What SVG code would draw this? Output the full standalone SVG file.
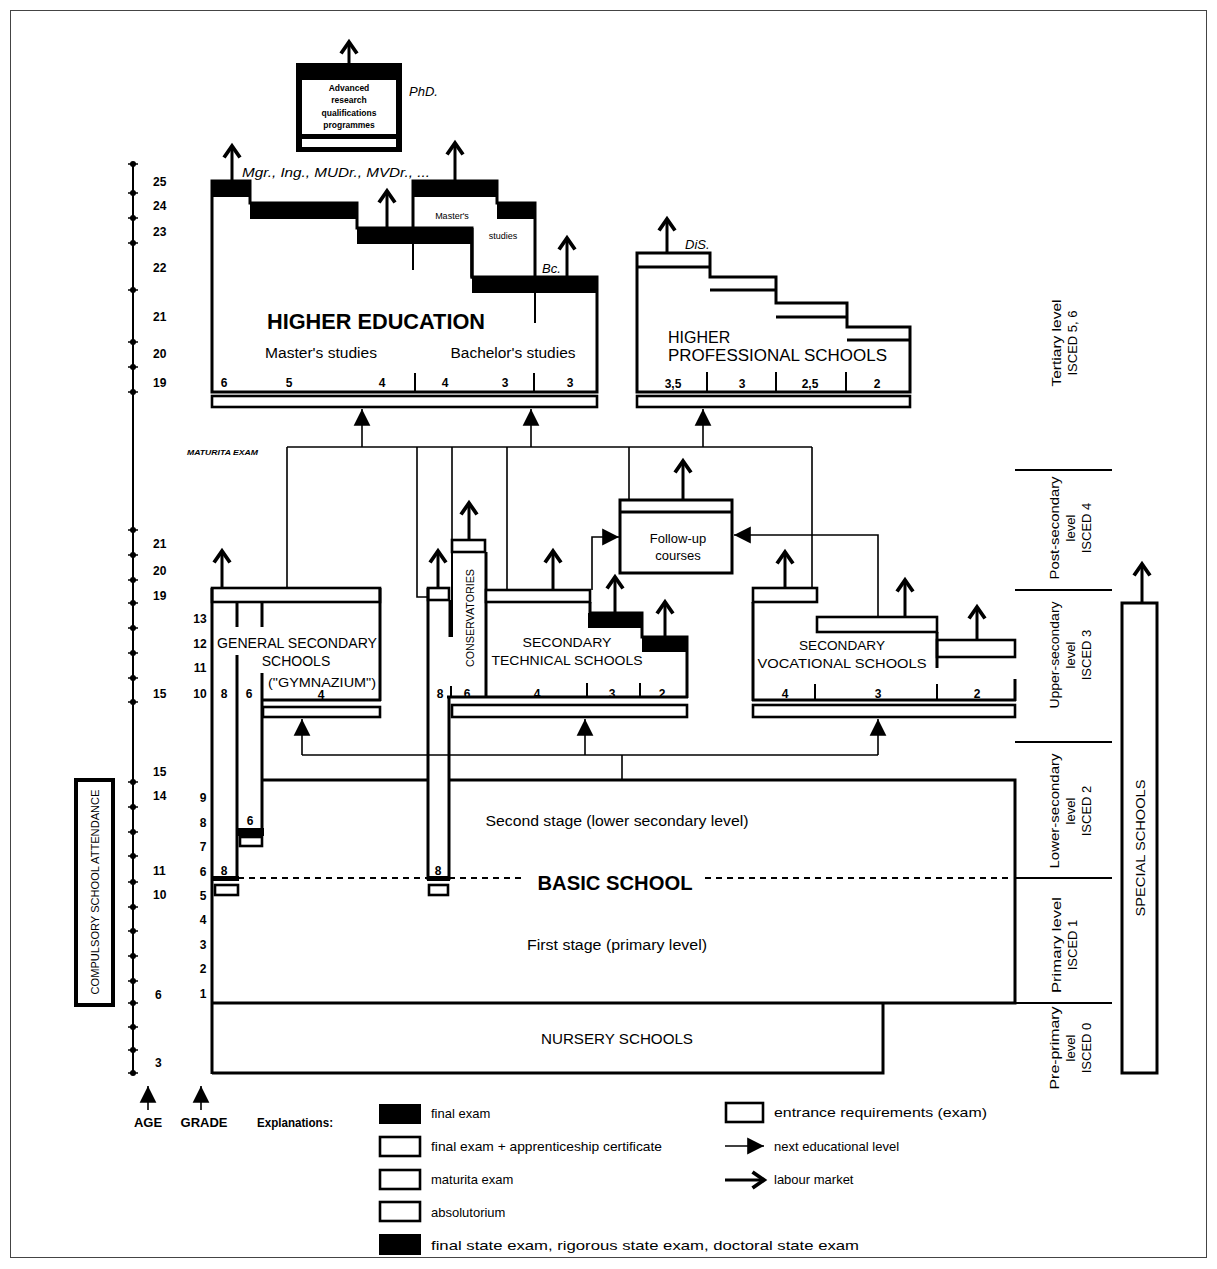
<svg xmlns="http://www.w3.org/2000/svg" width="1217" height="1269" viewBox="0 0 1217 1269">
<style>
text{font-family:"Liberation Sans",Arial,sans-serif;fill:#000}
.w{fill:none;stroke:#000;stroke-width:3}
.wt{fill:none;stroke:#000;stroke-width:2}
.bx{fill:#fff;stroke:#000;stroke-width:3}
.st{fill:#fff;stroke:#000;stroke-width:2.6}
.bd{fill:#000}
.ln{fill:none;stroke:#000;stroke-width:1.6}
.lab{fill:none;stroke:#000;stroke-width:3;marker-end:url(#lab)}
.nx{fill:none;stroke:#000;stroke-width:1.6;marker-end:url(#nxt)}
.age{font-size:12px;font-weight:bold}
.gr{font-size:12px;font-weight:bold;text-anchor:middle}
.num{font-size:12px;font-weight:bold;text-anchor:middle}
.nm{font-size:14px;text-anchor:middle}
.isc{font-size:13px;text-anchor:middle}
.lg{font-size:13px}
.it{font-style:italic;font-size:13px}
.tk{fill:#000}
</style>
<defs>
<marker id="lab" markerUnits="userSpaceOnUse" markerWidth="24" markerHeight="24" viewBox="-14 -12 24 24" refX="0" refY="0" orient="auto" overflow="visible"><path d="M-11.5,-8 L0,0 L-11.5,8" fill="none" stroke="#000" stroke-width="3.8"/></marker>
<marker id="nxt" markerUnits="userSpaceOnUse" markerWidth="24" markerHeight="24" viewBox="-16 -10 20 20" refX="0" refY="0" orient="auto" overflow="visible"><path d="M0,0 L-14,-7 L-14,7 Z" fill="#000"/></marker>
</defs>
<rect x="0" y="0" width="1217" height="1269" fill="#fff"/>
<rect id="frame" x="10.5" y="10.5" width="1196" height="1247" fill="none" stroke="#444" stroke-width="1"/>

<g id="age-axis">
<line x1="133" y1="163" x2="133" y2="1073" stroke="#000" stroke-width="2"/>
<g class="tk">
<circle cx="133" cy="164" r="3"/><circle cx="133" cy="193" r="3"/><circle cx="133" cy="218" r="3"/><circle cx="133" cy="243" r="3"/><circle cx="133" cy="290" r="3"/><circle cx="133" cy="342" r="3"/><circle cx="133" cy="367" r="3"/><circle cx="133" cy="392" r="3"/>
<circle cx="133" cy="530" r="3"/><circle cx="133" cy="555" r="3"/><circle cx="133" cy="580" r="3"/><circle cx="133" cy="603" r="3"/><circle cx="133" cy="628" r="3"/><circle cx="133" cy="653" r="3"/><circle cx="133" cy="678" r="3"/><circle cx="133" cy="702" r="3"/>
<circle cx="133" cy="782" r="3"/><circle cx="133" cy="807" r="3"/><circle cx="133" cy="832" r="3"/><circle cx="133" cy="856" r="3"/><circle cx="133" cy="882" r="3"/><circle cx="133" cy="907" r="3"/><circle cx="133" cy="931" r="3"/><circle cx="133" cy="956" r="3"/><circle cx="133" cy="981" r="3"/><circle cx="133" cy="1003" r="3"/><circle cx="133" cy="1027" r="3"/><circle cx="133" cy="1050" r="3"/><circle cx="133" cy="1073" r="3"/>
</g>
<path d="M128,164h10M128,193h10M128,218h10M128,243h10M128,290h10M128,342h10M128,367h10M128,392h10M128,530h10M128,555h10M128,580h10M128,603h10M128,628h10M128,653h10M128,678h10M128,702h10M128,782h10M128,807h10M128,832h10M128,856h10M128,882h10M128,907h10M128,931h10M128,956h10M128,981h10M128,1003h10M128,1027h10M128,1050h10M128,1073h10" stroke="#000" stroke-width="1.5"/>
<text class="age" x="153" y="186">25</text>
<text class="age" x="153" y="210">24</text>
<text class="age" x="153" y="236">23</text>
<text class="age" x="153" y="272">22</text>
<text class="age" x="153" y="321">21</text>
<text class="age" x="153" y="358">20</text>
<text class="age" x="153" y="387">19</text>
<text class="age" x="153" y="548">21</text>
<text class="age" x="153" y="575">20</text>
<text class="age" x="153" y="600">19</text>
<text class="age" x="153" y="698">15</text>
<text class="age" x="153" y="776">15</text>
<text class="age" x="153" y="800">14</text>
<text class="age" x="153" y="875">11</text>
<text class="age" x="153" y="899">10</text>
<text class="age" x="155" y="999">6</text>
<text class="age" x="155" y="1067">3</text>
<line class="ln" x1="148" y1="1110" x2="148" y2="1086" marker-end="url(#nxt)" stroke-width="1.8"/>
<text x="148" y="1127" font-size="13" font-weight="bold" text-anchor="middle">AGE</text>
</g>

<g id="grade-labels">
<text class="gr" x="200" y="623">13</text>
<text class="gr" x="200" y="648">12</text>
<text class="gr" x="200" y="672">11</text>
<text class="gr" x="200" y="698">10</text>
<text class="gr" x="203" y="802">9</text>
<text class="gr" x="203" y="827">8</text>
<text class="gr" x="203" y="851">7</text>
<text class="gr" x="203" y="876">6</text>
<text class="gr" x="203" y="900">5</text>
<text class="gr" x="203" y="924">4</text>
<text class="gr" x="203" y="949">3</text>
<text class="gr" x="203" y="973">2</text>
<text class="gr" x="203" y="998">1</text>
<line class="ln" x1="201" y1="1110" x2="201" y2="1086" marker-end="url(#nxt)" stroke-width="1.8"/>
<text x="204" y="1127" font-size="13" font-weight="bold" text-anchor="middle">GRADE</text>
</g>

<g id="compulsory">
<rect x="76" y="780" width="37" height="225" fill="#fff" stroke="#000" stroke-width="4"/>
<text transform="translate(99,892) rotate(-90)" font-size="10" text-anchor="middle" textLength="205" lengthAdjust="spacingAndGlyphs">COMPULSORY SCHOOL ATTENDANCE</text>
</g>

<g id="phd">
<rect x="296" y="63" width="106" height="89" fill="#000"/>
<rect x="302" y="80" width="94" height="54" fill="#fff"/>
<rect x="302" y="139" width="94" height="8" fill="#fff"/>
<g font-size="8.5" font-weight="bold" text-anchor="middle">
<text x="349" y="91">Advanced</text>
<text x="349" y="103">research</text>
<text x="349" y="116">qualifications</text>
<text x="349" y="128">programmes</text>
</g>
<line class="lab" x1="349" y1="63" x2="349" y2="42"/>
<text class="it" x="409" y="96">PhD.</text>
</g>

<g id="higher-education">
<path class="bx" d="M212,392 L212,181 L250,181 L250,203 L357,203 L357,228 L472,228 L472,277 L597,277 L597,392 Z"/>
<rect class="bd" x="212" y="181" width="38" height="16"/>
<rect class="bd" x="250" y="203" width="107" height="16"/>
<rect class="bd" x="357" y="228" width="115" height="16"/>
<rect class="bd" x="472" y="277" width="125" height="16"/>
<line class="wt" x1="413" y1="244" x2="413" y2="270"/>
<line class="wt" x1="535" y1="293" x2="535" y2="323"/>
<line class="wt" x1="415" y1="373" x2="415" y2="392"/>
<line class="wt" x1="534" y1="373" x2="534" y2="392"/>
<rect class="st" x="212" y="396" width="385" height="11"/>
<text x="376" y="329" font-size="22" font-weight="bold" text-anchor="middle" textLength="218" lengthAdjust="spacingAndGlyphs">HIGHER EDUCATION</text>
<text class="nm" x="321" y="358" textLength="112" lengthAdjust="spacingAndGlyphs">Master's studies</text>
<text class="nm" x="513" y="358" textLength="125" lengthAdjust="spacingAndGlyphs">Bachelor's studies</text>
<text class="num" x="224" y="387">6</text>
<text class="num" x="289" y="387">5</text>
<text class="num" x="382" y="387">4</text>
<text class="num" x="445" y="387">4</text>
<text class="num" x="505" y="387">3</text>
<text class="num" x="570" y="387">3</text>
<line class="lab" x1="232" y1="181" x2="232" y2="146"/>
<line class="lab" x1="387" y1="228" x2="387" y2="191"/>
<line class="lab" x1="567" y1="277" x2="567" y2="238"/>
<text class="it" x="242" y="177" textLength="188" lengthAdjust="spacingAndGlyphs">Mgr., Ing., MUDr., MVDr., ...</text>
<text class="it" x="542" y="273">Bc.</text>
</g>

<g id="masters-box">
<path class="bx" d="M413,228 L413,181 L497,181 L497,203 L535,203 L535,277 L472,277 L472,228 Z"/>
<rect class="bd" x="413" y="181" width="84" height="16"/>
<rect class="bd" x="497" y="203" width="38" height="16"/>
<line class="w" x1="472" y1="228" x2="472" y2="277"/>
<text x="452" y="219" font-size="9" text-anchor="middle">Master's</text>
<text x="503" y="239" font-size="9" text-anchor="middle">studies</text>
<line class="lab" x1="455" y1="181" x2="455" y2="143"/>
</g>

<g id="higher-professional">
<path class="bx" d="M637,392 L637,253 L710,253 L710,277 L776,277 L776,303 L847,303 L847,327 L910,327 L910,392 Z"/>
<path class="w" d="M637,267 H710 M710,290 H776 M776,317 H847 M847,340 H910"/>
<line class="wt" x1="707" y1="372" x2="707" y2="392"/>
<line class="wt" x1="776" y1="372" x2="776" y2="392"/>
<line class="wt" x1="846" y1="372" x2="846" y2="392"/>
<rect class="st" x="637" y="396" width="273" height="11"/>
<text x="668" y="343" font-size="16">HIGHER</text>
<text x="668" y="361" font-size="16" textLength="219" lengthAdjust="spacingAndGlyphs">PROFESSIONAL SCHOOLS</text>
<text class="num" x="673" y="388">3,5</text>
<text class="num" x="742" y="388">3</text>
<text class="num" x="810" y="388">2,5</text>
<text class="num" x="877" y="388">2</text>
<line class="lab" x1="667" y1="253" x2="667" y2="219"/>
<text class="it" x="685" y="249" font-size="11">DiS.</text>
</g>

<g id="gymnazium">
<rect class="st" x="212" y="588" width="168" height="14"/>
<line class="w" x1="380" y1="588" x2="380" y2="701"/>
<line class="w" x1="261" y1="700" x2="381" y2="700"/>
<rect class="st" x="263" y="707" width="117" height="10"/>
<line class="w" x1="212" y1="588" x2="212" y2="1074"/>
<line class="w" x1="237" y1="602" x2="237" y2="627"/>
<line class="w" x1="262" y1="602" x2="262" y2="627"/>
<line class="w" x1="237" y1="655" x2="237" y2="878"/>
<line class="w" x1="262" y1="673" x2="262" y2="830"/>
<rect class="bd" x="211" y="876" width="28" height="5"/>
<rect class="st" x="215" y="885" width="23" height="10"/>
<rect class="bd" x="237" y="828" width="27" height="8"/>
<rect class="st" x="240" y="837" width="22" height="9"/>
<text x="297" y="648" font-size="14" text-anchor="middle" textLength="160" lengthAdjust="spacingAndGlyphs">GENERAL SECONDARY</text>
<text x="296" y="666" font-size="14" text-anchor="middle">SCHOOLS</text>
<text x="322" y="687" font-size="13" text-anchor="middle" textLength="108" lengthAdjust="spacingAndGlyphs">("GYMNAZIUM")</text>
<text class="num" x="321" y="699">4</text>
<text class="num" x="224" y="698">8</text>
<text class="num" x="249" y="698">6</text>
<text class="num" x="224" y="875">8</text>
<text class="num" x="250" y="825">6</text>
<line class="lab" x1="222" y1="588" x2="222" y2="551"/>
</g>

<g id="conservatory-8">
<rect class="st" x="428" y="588" width="21" height="12"/>
<line class="w" x1="428" y1="588" x2="428" y2="880"/>
<line class="w" x1="450" y1="600" x2="450" y2="637"/>
<line class="w" x1="449" y1="697" x2="449" y2="880"/>
<rect class="bd" x="427" y="876" width="23" height="5"/>
<rect class="st" x="429" y="885" width="19" height="10"/>
<text class="num" x="440" y="698">8</text>
<text class="num" x="438" y="875">8</text>
<line class="lab" x1="438" y1="588" x2="438" y2="551"/>
</g>

<g id="conservatories">
<rect class="st" x="452" y="540" width="33" height="12"/>
<line class="wt" x1="452" y1="552" x2="452" y2="637"/>
<line class="w" x1="486" y1="552" x2="486" y2="698"/>
<line class="wt" x1="451" y1="686" x2="451" y2="697"/>
<text transform="translate(474,618) rotate(-90)" font-size="10" text-anchor="middle" textLength="98" lengthAdjust="spacingAndGlyphs">CONSERVATORIES</text>
<text class="num" x="467" y="698">6</text>
<line class="lab" x1="469" y1="540" x2="469" y2="503"/>
</g>

<g id="technical">
<rect class="st" x="486" y="590" width="104" height="12"/>
<path class="w" d="M590,602 L590,613 L642,613 L642,637 L687,637 L687,698"/>
<rect class="bd" x="588" y="613" width="55" height="15"/>
<rect class="bd" x="642" y="637" width="46" height="15"/>
<line class="w" x1="447" y1="697" x2="688" y2="697"/>
<line class="wt" x1="587" y1="683" x2="587" y2="697"/>
<line class="wt" x1="640" y1="683" x2="640" y2="697"/>
<rect class="st" x="452" y="705" width="235" height="12"/>
<text x="567" y="647" font-size="13" text-anchor="middle" textLength="89" lengthAdjust="spacingAndGlyphs">SECONDARY</text>
<text x="567" y="665" font-size="13" text-anchor="middle" textLength="151" lengthAdjust="spacingAndGlyphs">TECHNICAL SCHOOLS</text>
<text class="num" x="537" y="698">4</text>
<text class="num" x="612" y="698">3</text>
<text class="num" x="662" y="698">2</text>
<line class="lab" x1="553" y1="590" x2="553" y2="551"/>
<line class="lab" x1="615" y1="613" x2="615" y2="577"/>
<line class="lab" x1="665" y1="637" x2="665" y2="602"/>
</g>

<g id="follow-up">
<rect class="bx" x="620" y="500" width="112" height="73"/>
<line class="w" x1="620" y1="512" x2="732" y2="512"/>
<text x="678" y="543" font-size="13" text-anchor="middle">Follow-up</text>
<text x="678" y="560" font-size="13" text-anchor="middle">courses</text>
<line class="lab" x1="683" y1="500" x2="683" y2="461"/>
</g>

<g id="vocational">
<rect class="st" x="753" y="588" width="64" height="14"/>
<rect class="st" x="817" y="617" width="120" height="15"/>
<rect class="st" x="937" y="640" width="78" height="17"/>
<line class="w" x1="753" y1="602" x2="753" y2="701"/>
<line class="w" x1="937" y1="632" x2="937" y2="668"/>
<line class="w" x1="1015" y1="679" x2="1015" y2="701"/>
<line class="w" x1="752" y1="700" x2="1016" y2="700"/>
<line class="wt" x1="815" y1="684" x2="815" y2="700"/>
<line class="wt" x1="937" y1="684" x2="937" y2="700"/>
<rect class="st" x="753" y="705" width="262" height="12"/>
<text x="842" y="650" font-size="13" text-anchor="middle" textLength="86" lengthAdjust="spacingAndGlyphs">SECONDARY</text>
<text x="842" y="668" font-size="13" text-anchor="middle" textLength="169" lengthAdjust="spacingAndGlyphs">VOCATIONAL SCHOOLS</text>
<text class="num" x="785" y="698">4</text>
<text class="num" x="878" y="698">3</text>
<text class="num" x="977" y="698">2</text>
<line class="lab" x1="785" y1="588" x2="785" y2="552"/>
<line class="lab" x1="905" y1="617" x2="905" y2="580"/>
<line class="lab" x1="977" y1="640" x2="977" y2="607"/>
</g>

<g id="basic-school">
<path class="w" d="M262,780 H428 M449,780 H1015 V1003 H212"/>
<path d="M238,878 H428 M449,878 H525 M705,878 H1013" fill="none" stroke="#000" stroke-width="2" stroke-dasharray="6,5"/>
<text class="nm" x="617" y="826" textLength="263" lengthAdjust="spacingAndGlyphs">Second stage (lower secondary level)</text>
<text x="615" y="890" font-size="20" font-weight="bold" text-anchor="middle" textLength="155" lengthAdjust="spacingAndGlyphs">BASIC SCHOOL</text>
<text class="nm" x="617" y="950" textLength="180" lengthAdjust="spacingAndGlyphs">First stage (primary level)</text>
</g>

<g id="nursery">
<path class="w" d="M212,1073 H883 V1003"/>
<text class="nm" x="617" y="1044" textLength="152" lengthAdjust="spacingAndGlyphs">NURSERY SCHOOLS</text>
</g>

<g id="special-schools">
<rect class="bx" x="1122" y="603" width="35" height="470"/>
<text transform="translate(1145,848) rotate(-90)" font-size="13" text-anchor="middle" textLength="137" lengthAdjust="spacingAndGlyphs">SPECIAL SCHOOLS</text>
<line class="lab" x1="1142" y1="603" x2="1142" y2="564"/>
</g>

<g id="isced">
<path d="M1015,470 H1112 M1015,590 H1112 M1015,742 H1112 M1015,878 H1112 M1015,1003 H1112" stroke="#000" stroke-width="1.8"/>
<text class="isc" transform="translate(1061,343) rotate(-90)" textLength="87" lengthAdjust="spacingAndGlyphs">Tertiary level</text>
<text class="isc" transform="translate(1077,343) rotate(-90)">ISCED 5, 6</text>
<text class="isc" transform="translate(1059,528) rotate(-90)" textLength="103" lengthAdjust="spacingAndGlyphs">Post-secondary</text>
<text class="isc" transform="translate(1075,528) rotate(-90)">level</text>
<text class="isc" transform="translate(1091,528) rotate(-90)">ISCED 4</text>
<text class="isc" transform="translate(1059,655) rotate(-90)" textLength="107" lengthAdjust="spacingAndGlyphs">Upper-secondary</text>
<text class="isc" transform="translate(1075,655) rotate(-90)">level</text>
<text class="isc" transform="translate(1091,655) rotate(-90)">ISCED 3</text>
<text class="isc" transform="translate(1059,811) rotate(-90)" textLength="115" lengthAdjust="spacingAndGlyphs">Lower-secondary</text>
<text class="isc" transform="translate(1075,811) rotate(-90)">level</text>
<text class="isc" transform="translate(1091,811) rotate(-90)">ISCED 2</text>
<text class="isc" transform="translate(1061,945) rotate(-90)" textLength="96" lengthAdjust="spacingAndGlyphs">Primary level</text>
<text class="isc" transform="translate(1077,945) rotate(-90)">ISCED 1</text>
<text class="isc" transform="translate(1059,1048) rotate(-90)" textLength="83" lengthAdjust="spacingAndGlyphs">Pre-primary</text>
<text class="isc" transform="translate(1075,1048) rotate(-90)">level</text>
<text class="isc" transform="translate(1091,1048) rotate(-90)">ISCED 0</text>
</g>

<g id="connectors">
<text x="187" y="455" font-size="7" font-weight="bold" font-style="italic" textLength="71" lengthAdjust="spacingAndGlyphs">MATURITA EXAM</text>
<line class="ln" x1="287" y1="447" x2="812" y2="447"/>
<path class="ln" d="M287,447 V588 M417,447 V597 H428 M452,447 V540 M507,447 V590 M629,447 V500 M812,447 V588"/>
<line class="nx" x1="362" y1="447" x2="362" y2="409"/>
<line class="nx" x1="531" y1="447" x2="531" y2="409"/>
<line class="nx" x1="703" y1="447" x2="703" y2="409"/>
<path class="nx" d="M592,590 V537 H619"/>
<path class="nx" d="M878,617 V535 H734"/>
<line class="ln" x1="302" y1="755" x2="878" y2="755"/>
<line class="ln" x1="622" y1="755" x2="622" y2="780"/>
<line class="nx" x1="302" y1="755" x2="302" y2="719"/>
<line class="nx" x1="585" y1="755" x2="585" y2="719"/>
<line class="nx" x1="878" y1="755" x2="878" y2="719"/>
</g>

<g id="legend">
<text x="257" y="1127" font-size="13" font-weight="bold" textLength="76" lengthAdjust="spacingAndGlyphs">Explanations:</text>
<rect x="379" y="1104" width="42" height="20" fill="#000"/>
<rect x="380" y="1137" width="40" height="19" class="st"/>
<rect x="380" y="1170" width="40" height="19" class="st"/>
<rect x="380" y="1202" width="40" height="19" class="st"/>
<rect x="379" y="1234" width="42" height="21" fill="#000"/>
<text class="lg" x="431" y="1118">final exam</text>
<text class="lg" x="431" y="1151" textLength="231" lengthAdjust="spacingAndGlyphs">final exam + apprenticeship certificate</text>
<text class="lg" x="431" y="1184">maturita exam</text>
<text class="lg" x="431" y="1217">absolutorium</text>
<text class="lg" x="431" y="1250" font-size="14" textLength="428" lengthAdjust="spacingAndGlyphs">final state exam, rigorous state exam, doctoral state exam</text>
<rect x="726" y="1103" width="37" height="19" class="st"/>
<text class="lg" x="774" y="1117" font-size="14" textLength="213" lengthAdjust="spacingAndGlyphs">entrance requirements (exam)</text>
<line class="nx" x1="725" y1="1146" x2="764" y2="1146"/>
<text class="lg" x="774" y="1151">next educational level</text>
<line class="lab" x1="725" y1="1180" x2="764" y2="1180"/>
<text class="lg" x="774" y="1184">labour market</text>
</g>
</svg>
